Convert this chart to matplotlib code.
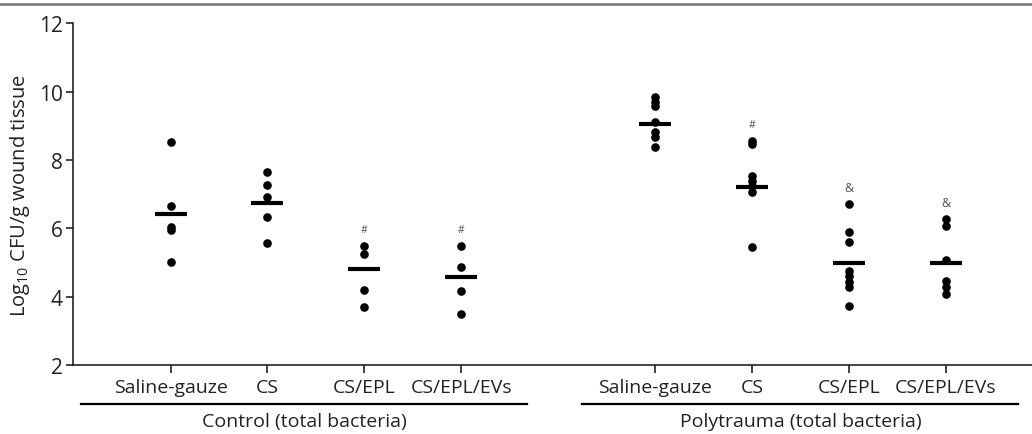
import numpy as np
import matplotlib
matplotlib.use('Agg')
import matplotlib.pyplot as plt
from matplotlib.lines import Line2D
import matplotlib.transforms as mtransforms

plt.rcParams['font.family'] = ['Open Sans', 'DejaVu Sans']
plt.rcParams['mathtext.fontset'] = 'custom'
plt.rcParams['mathtext.rm'] = 'Open Sans'

# ----- data (log10 CFU/g) -----
treatments = ['Saline-gauze', 'CS', 'CS/EPL', 'CS/EPL/EVs']
groups = ['Control (total bacteria)', 'Polytrauma (total bacteria)']

ctrl_saline = [8.52, 6.64, 6.05, 5.95, 5.02]
ctrl_cs = [7.64, 7.27, 6.93, 6.32, 5.57]
ctrl_epl = [5.49, 5.25, 4.19, 3.69]
ctrl_evs = [5.47, 4.86, 4.16, 3.49]

poly_saline = [9.83, 9.70, 9.59, 9.10, 8.81, 8.66, 8.37]
poly_cs = [8.55, 8.48, 7.54, 7.39, 7.25, 7.07, 5.44]
poly_epl = [6.71, 5.88, 5.59, 4.76, 4.61, 4.44, 4.27, 3.72]
poly_evs = [6.27, 6.06, 5.08, 4.47, 4.27, 4.08]

ctrl_means = [6.43, 6.74, 4.81, 4.57]
poly_means = [9.05, 7.22, 4.99, 5.00]

ctrl_marks = ['', '', '#', '#']
poly_marks = ['', '#', '&', '&']

all_sets = [ctrl_saline, ctrl_cs, ctrl_epl, ctrl_evs,
            poly_saline, poly_cs, poly_epl, poly_evs]
all_means = ctrl_means + poly_means
all_marks = ctrl_marks + poly_marks
positions = [0, 1, 2, 3, 5, 6, 7, 8]

fig = plt.figure(figsize=(10.32, 4.35), dpi=100)
ax = fig.add_axes([0.0704, 0.1586, 0.9296, 0.7855])

for pos, vals, m, mark in zip(positions, all_sets, all_means, all_marks):
    ax.plot([pos] * len(vals), vals, 'o', color='black', markersize=6.2,
            markeredgewidth=0, zorder=3)
    ax.plot([pos - 0.165, pos + 0.165], [m, m], color='black', linewidth=3.0,
            solid_capstyle='butt', zorder=4)
    if mark:
        ax.annotate(mark, xy=(pos, max(vals)), xytext=(0, 12),
                    textcoords='offset points', ha='center', va='center',
                    fontsize=7.5 if mark == '#' else 9, color='#555555')

ax.set_xlim(-1.01, 8.89)
ax.set_ylim(2, 12)
ax.set_yticks([2, 4, 6, 8, 10, 12])
ax.set_xticks(positions)
ax.set_xticklabels(treatments + treatments)
ax.set_ylabel(r'Log$_{\mathregular{10}}$ CFU/g wound tissue', fontsize=14.5,
              color='#222222', labelpad=5)

for s in ['top', 'right']:
    ax.spines[s].set_visible(False)
for s in ['left', 'bottom']:
    ax.spines[s].set_linewidth(1.2)
    ax.spines[s].set_color('#222222')
ax.tick_params(axis='y', labelsize=15, length=5, width=1.2, color='#222222',
               labelcolor='#222222', pad=2)
ax.tick_params(axis='x', labelsize=14, length=6, width=1.2, color='#222222',
               labelcolor='#222222', pad=3)

# group underlines and labels
trans = mtransforms.blended_transform_factory(ax.transData, fig.transFigure)
group_spans = [(-0.92, 3.68), (4.25, 8.75)]
for (x0, x1), name in zip(group_spans, groups):
    ax.add_line(Line2D([x0, x1], [1 - 405 / 435, 1 - 405 / 435], transform=trans,
                       color='black', linewidth=1.6, clip_on=False))
    ax.text((x0 + x1) / 2, 1 - 422 / 435, name, transform=trans, ha='center',
            va='center', fontsize=14, color='#222222')

# top border line
fig.add_artist(Line2D([0, 1], [1 - 5 / 435, 1 - 5 / 435], transform=fig.transFigure,
                      color='#777777', linewidth=1.8))

fig.savefig('out.png', dpi=100)
